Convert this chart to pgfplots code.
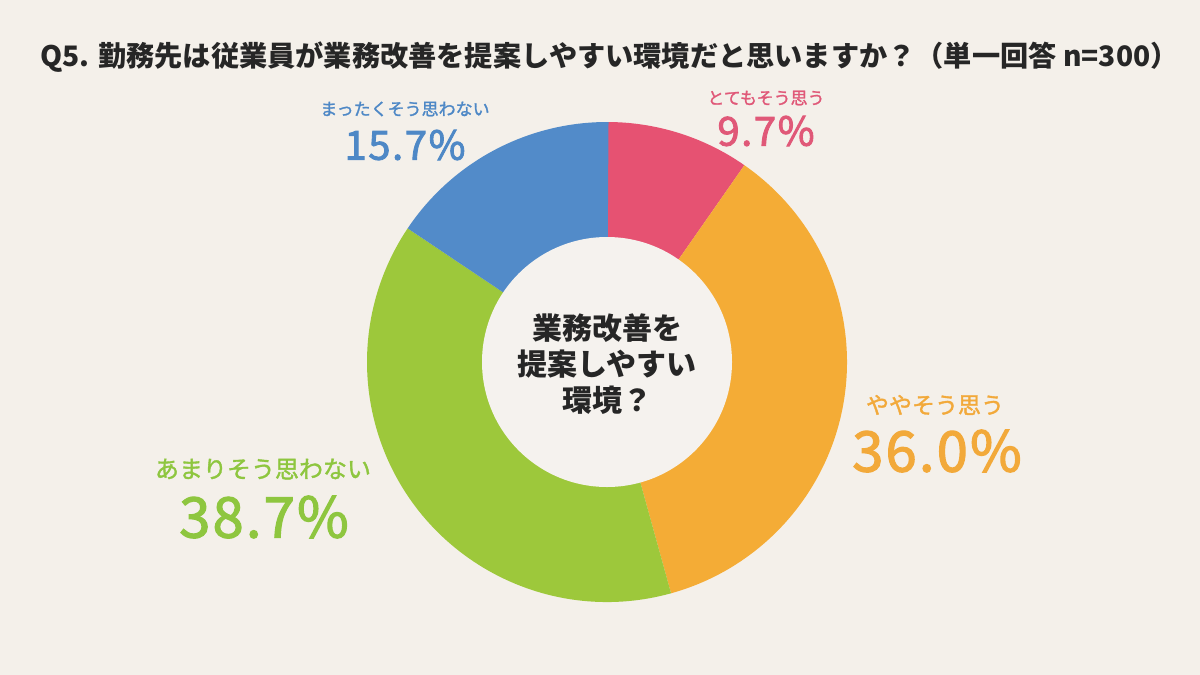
\documentclass[border=0pt]{standalone}
\usepackage{pgfplots}
\pgfplotsset{compat=1.18}
\usepackage{pgfplotstable}
\usepackage{fontspec}
\newfontfamily\jp{Noto Sans CJK JP}
\newfontfamily\jpnum[FakeBold=2.2, LetterSpace=4]{Noto Sans CJK JP}
\newfontfamily\jpm[FakeBold=1.5]{Noto Sans CJK JP}
\definecolor{bg}{HTML}{F4F0EA}
\definecolor{hole}{HTML}{F5F2EE}
\definecolor{ink}{HTML}{262626}
\definecolor{cPink}{HTML}{E65272}
\definecolor{cOrange}{HTML}{F4AC36}
\definecolor{cGreen}{HTML}{9DC83B}
\definecolor{cBlue}{HTML}{528BC9}
\definecolor{tPink}{HTML}{E05878}
\definecolor{tOrange}{HTML}{F2A93A}
\definecolor{tGreen}{HTML}{8EC63F}
\definecolor{tBlue}{HTML}{4E88C6}

% share of answers, clockwise from 12 o'clock
\pgfplotstableread{
v c
9.7 cPink
36.0 cOrange
38.7 cGreen
15.7 cBlue
}\shares

\begin{document}
\begin{tikzpicture}
\begin{axis}[
  width=600pt, height=337.5pt, scale only axis,
  xmin=0, xmax=1200, ymin=0, ymax=675, y dir=reverse,
  hide axis, clip=false
]
\fill[bg] (axis cs:0,0) rectangle (axis cs:1200,675);
\pgfplotsextra{
  \gdef\ang{90}
  \pgfplotsforeachungrouped \i in {0,...,3}{
    \pgfplotstablegetelem{\i}{v}\of\shares \let\val=\pgfplotsretval
    \pgfplotstablegetelem{\i}{c}\of\shares \let\col=\pgfplotsretval
    \pgfmathsetmacro\endang{\ang-3.6*\val}
    \fill[\col] (axis cs:607,362) -- ++(\ang:120pt)
      arc[start angle=\ang, end angle=\endang, radius=120pt] -- cycle;
    \global\let\ang=\endang
  }
  \fill[hole] (axis cs:607,362) circle[radius=62.5pt];
}
% title
\node[anchor=west, inner sep=0pt, text=ink, font=\jp\bfseries\fontsize{14.1pt}{16pt}\selectfont]
  at (axis cs:40,57) {Q5. 勤務先は従業員が業務改善を提案しやすい環境だと思いますか？（単一回答 n=300）};
% centre text
\node[align=center, inner sep=0pt, text=ink, font=\jp\bfseries\fontsize{15pt}{18pt}\selectfont]
  at (axis cs:607,364) {業務改善を\\提案しやすい\\環境？};
% labels
\node[inner sep=0pt, text=tBlue, font=\jpm\fontsize{8.5pt}{10pt}\selectfont] at (axis cs:405,109) {まったくそう思わない};
\node[inner sep=0pt, text=tBlue, font=\jpnum\fontsize{20pt}{24pt}\selectfont] at (axis cs:405,145) {15.7\%};
\node[inner sep=0pt, text=tPink, font=\jpm\fontsize{8.5pt}{10pt}\selectfont] at (axis cs:766,98) {とてもそう思う};
\node[inner sep=0pt, text=tPink, font=\jpnum\fontsize{20pt}{24pt}\selectfont] at (axis cs:766,131) {9.7\%};
\node[inner sep=0pt, text=tOrange, font=\jpm\fontsize{11.5pt}{13pt}\selectfont] at (axis cs:935,405) {ややそう思う};
\node[inner sep=0pt, text=tOrange, font=\jpnum\fontsize{28pt}{32pt}\selectfont] at (axis cs:937,451) {36.0\%};
\node[inner sep=0pt, text=tGreen, font=\jpm\fontsize{12pt}{14pt}\selectfont] at (axis cs:263,469) {あまりそう思わない};
\node[inner sep=0pt, text=tGreen, font=\jpnum\fontsize{28pt}{32pt}\selectfont] at (axis cs:264,517) {38.7\%};
\end{axis}
\end{tikzpicture}
\end{document}
